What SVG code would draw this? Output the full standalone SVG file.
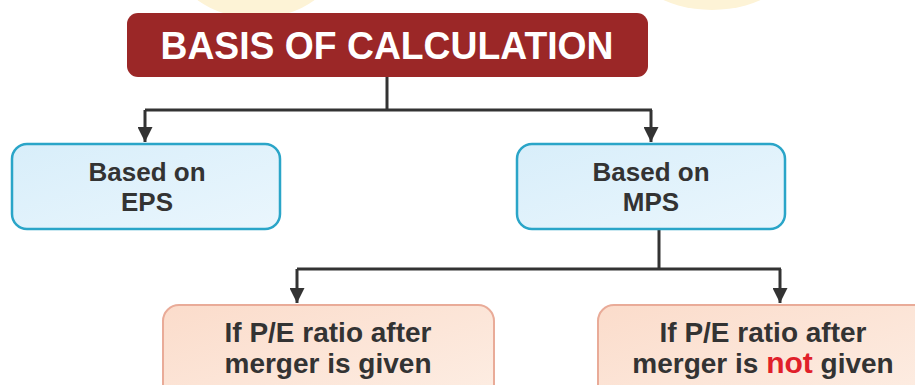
<svg xmlns="http://www.w3.org/2000/svg" width="915" height="385" viewBox="0 0 915 385">
<defs>
<linearGradient id="gBlue" x1="0" y1="0" x2="1" y2="1">
<stop offset="0" stop-color="#d8eefa"/><stop offset="1" stop-color="#eaf6fd"/>
</linearGradient>
<linearGradient id="gPeach" x1="0" y1="0" x2="1" y2="1">
<stop offset="0" stop-color="#fbdccb"/><stop offset="1" stop-color="#fdeee4"/>
</linearGradient>
<marker id="arr" viewBox="0 0 10 10" refX="10" refY="5" markerWidth="5" markerHeight="5" orient="auto" markerUnits="strokeWidth">
<path d="M0,0 L10,5 L0,10 Z" fill="#333"/>
</marker>
<style>
.conn{fill:none;stroke:#333;stroke-width:3}
.blue{fill:url(#gBlue);stroke:#2aa5c8;stroke-width:2.5}
.peach{fill:url(#gPeach);stroke:#e9ab98;stroke-width:2}
.t{font-family:"Liberation Sans",Arial,sans-serif;font-weight:bold;fill:#333;text-anchor:middle}
</style>
</defs>
<rect width="915" height="385" fill="#ffffff"/>
<g id="watermark" fill="#fdf3d6">
<ellipse cx="256" cy="-42" rx="82" ry="60"/>
<ellipse cx="712" cy="-50" rx="88" ry="60"/>
</g>
<g id="connectors">
<path class="conn" d="M387,77 V110"/>
<path class="conn" d="M145,110 H652"/>
<path class="conn" d="M145,110 V142" marker-end="url(#arr)"/>
<path class="conn" d="M651,110 V142" marker-end="url(#arr)"/>
<path class="conn" d="M659,230 V269"/>
<path class="conn" d="M297,269 H781"/>
<path class="conn" d="M297,269 V303" marker-end="url(#arr)"/>
<path class="conn" d="M780,269 V303" marker-end="url(#arr)"/>
</g>
<g id="title">
<rect x="127" y="13" width="521" height="64" rx="11" fill="#9b2727"/>
<text x="387" y="59" class="t" style="fill:#ffffff;font-size:39px" textLength="453" lengthAdjust="spacingAndGlyphs">BASIS OF CALCULATION</text>
</g>
<g id="eps">
<rect class="blue" x="12" y="144" width="268" height="85" rx="15"/>
<text x="147" y="181" class="t" font-size="26">Based on</text>
<text x="147" y="211" class="t" font-size="26">EPS</text>
</g>
<g id="mps">
<rect class="blue" x="517" y="144" width="268" height="85" rx="15"/>
<text x="651" y="181" class="t" font-size="26">Based on</text>
<text x="651" y="211" class="t" font-size="26">MPS</text>
</g>
<g id="pe-given">
<rect class="peach" x="163" y="305" width="331" height="100" rx="16"/>
<text x="328" y="342" class="t" font-size="28">If P/E ratio after</text>
<text x="328" y="373" class="t" font-size="28">merger is given</text>
</g>
<g id="pe-not-given">
<rect class="peach" x="598" y="305" width="340" height="100" rx="16"/>
<text x="763" y="342" class="t" font-size="28">If P/E ratio after</text>
<text x="763" y="373" class="t" font-size="28">merger is <tspan fill="#e0202a" font-size="30">not</tspan> given</text>
</g>
</svg>
